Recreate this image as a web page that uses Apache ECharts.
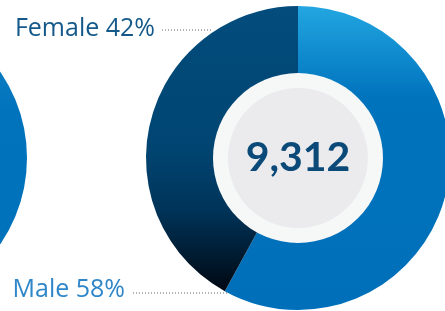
<!DOCTYPE html>
<html>
<head>
<meta charset="utf-8">
<script src="https://cdn.jsdelivr.net/npm/echarts@6/dist/echarts.min.js"></script>
<style>
  html, body { margin: 0; padding: 0; background: #fff; }
  #chart { width: 445px; height: 311px; }
</style>
</head>
<body>
<div id="chart"></div>
<script>
// gender split, clockwise from 12 o'clock
const categories = ['Male', 'Female']
const counts = [5401, 3911]
const labelColors = ['#2f86c9', '#15598a']
// neighbouring donut, only its right edge shows
const neighbourCounts = [1]

const total = counts.reduce((a, b) => a + b, 0)

const sliceColors = [
  new echarts.graphic.LinearGradient(0, 0, 0, 1, [
    { offset: 0, color: '#22a6e1' },
    { offset: 0.3, color: '#0073bd' },
    { offset: 1, color: '#006fb9' }
  ]),
  new echarts.graphic.LinearGradient(0, 0, 0, 1, [
    { offset: 0, color: '#034c7c' },
    { offset: 0.5, color: '#004572' },
    { offset: 0.72, color: '#003358' },
    { offset: 1, color: '#000812' }
  ])
]

// where each label sits and where its dotted leader runs
const labelSpots = {
  Female: { x: 155, y: 29, line: [[162, 30], [213, 30]] },
  Male: { x: 125, y: 290, line: [[133, 293], [227, 293]] }
}

const chart = echarts.init(document.getElementById('chart'))

const labelGraphics = []
categories.forEach((name, i) => {
  const spot = labelSpots[name]
  const pct = Math.round(counts[i] / total * 100)
  labelGraphics.push({
    type: 'polyline',
    silent: true,
    shape: { points: spot.line },
    style: { stroke: '#666', lineWidth: 1, lineDash: [1, 2], fill: null }
  })
  labelGraphics.push({
    type: 'text',
    silent: true,
    x: spot.x,
    y: spot.y,
    style: {
      text: `${name} ${pct}%`,
      fill: labelColors[i],
      font: '25px "Open Sans"',
      align: 'right',
      verticalAlign: 'middle'
    }
  })
})

const option = {
  animation: false,
  graphic: labelGraphics,
  series: [
    {
      name: 'neighbour',
      type: 'pie',
      silent: true,
      center: [-125, 158],
      radius: [85, 152],
      label: { show: false },
      data: neighbourCounts.map(v => ({
        value: v,
        itemStyle: {
          color: new echarts.graphic.LinearGradient(0, 0, 0, 1, [
            { offset: 0, color: '#1a88cc' },
            { offset: 0.35, color: '#0073bc' },
            { offset: 1, color: '#0071bb' }
          ])
        }
      }))
    },
    {
      name: 'gender',
      type: 'pie',
      silent: true,
      center: [298, 158],
      radius: [84, 152],
      startAngle: 90,
      clockwise: true,
      itemStyle: { borderWidth: 0 },
      label: { show: false },
      labelLine: { show: false },
      data: categories.map((name, i) => ({
        name,
        value: counts[i],
        itemStyle: { color: sliceColors[i] }
      }))
    },
    {
      name: 'ring',
      type: 'pie',
      silent: true,
      center: [298, 158],
      radius: [0, 85],
      label: { show: false },
      data: [{ value: 1, itemStyle: { color: '#f6f8f8' } }]
    },
    {
      name: 'total',
      type: 'pie',
      silent: true,
      center: [298, 158],
      radius: [0, 70],
      label: {
        show: true,
        position: 'center',
        formatter: () => total.toLocaleString('en-US'),
        fontFamily: 'Lato',
        fontWeight: 'bold',
        fontSize: 41,
        color: '#0b4a78',
        padding: [13, 0, 0, 0]
      },
      labelLine: { show: false },
      data: [{ value: 1, itemStyle: { color: '#ebebed' } }]
    }
  ]
}

chart.setOption(option)
</script>
</body>
</html>
